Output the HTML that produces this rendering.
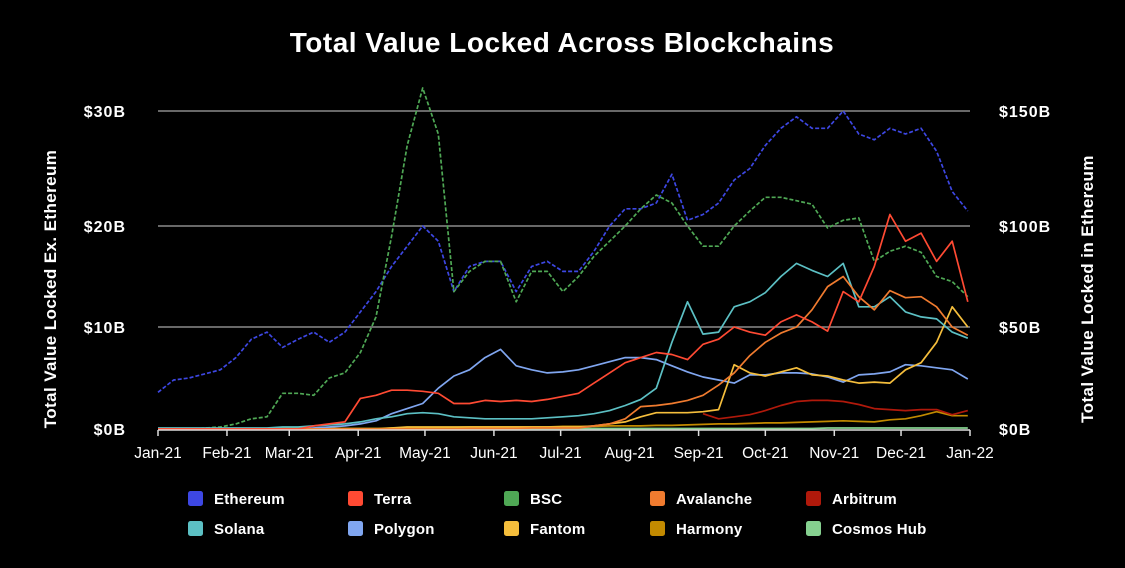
<!DOCTYPE html>
<html><head><meta charset="utf-8"><style>
body{margin:0;background:#000;width:1125px;height:563px;overflow:hidden;font-family:"Liberation Sans",sans-serif;color:#fff}
svg text{font-family:"Liberation Sans",sans-serif;fill:#fff}
</style></head><body>
<svg id="chart" width="1125" height="563">
<text x="562" y="52" text-anchor="middle" font-size="28" font-weight="bold" letter-spacing="0.5">Total Value Locked Across Blockchains</text>
<text transform="translate(56,289) rotate(-90)" text-anchor="middle" font-size="17" font-weight="bold" letter-spacing="0.4">Total Value Locked Ex. Ethereum</text>
<text transform="translate(1093,289) rotate(-90)" text-anchor="middle" font-size="17" font-weight="bold" letter-spacing="0.4">Total Value Locked in Ethereum</text>
<g id="grid"></g><g id="series"></g><g id="axes"></g><g id="legend"></g>
</svg>
<script>
const months = ["Jan-21","Feb-21","Mar-21","Apr-21","May-21","Jun-21","Jul-21","Aug-21","Sep-21","Oct-21","Nov-21","Dec-21","Jan-22"];
const monthDays = [0,31,59,90,120,151,181,212,243,273,304,334,365];
const leftTicks = [0,10,20,30];
const leftTickLabels = ["$0B","$10B","$20B","$30B"];
const rightTickLabels = ["$0B","$50B","$100B","$150B"];
const ethereum = [18,24,25,27,29,35,44,47.5,40,44,47.5,42.5,47.5,57.5,67.5,80,90,100,92.5,67.5,80,82.5,82.5,67.5,80,82.5,77.5,77.5,87.5,100,107.5,107.5,110,122.5,102.5,105,110,120,125,135,142.5,147.5,142.5,142.5,150,140,137.5,142.5,140,142.5,132.5,115,106.5];
const terra = [0,0,0,0,0,0,0,0,0,0,0.3,0.5,0.7,3,3.3,3.8,3.8,3.7,3.5,2.5,2.5,2.8,2.7,2.8,2.7,2.9,3.2,3.5,4.5,5.5,6.5,7,7.5,7.3,6.8,8.3,8.8,10,9.5,9.2,10.5,11.2,10.5,9.6,13.5,12.5,16,21,18.5,19.3,16.5,18.5,12.5];
const bsc = [0,0,0,0.1,0.2,0.5,1,1.2,3.5,3.5,3.3,5,5.5,7.5,11,19,27,32,28,13.5,15.5,16.5,16.5,12.5,15.5,15.5,13.5,15,17,18.5,20,21.5,22.7,22,20,18,18,20,21.3,22.5,22.5,22.2,21.9,19.8,20.5,20.7,16.5,17.5,18,17.4,15,14.5,13];
const avalanche = [0,0,0,0,0,0,0,0,0,0,0,0,0,0,0,0,0,0,0,0,0.05,0.05,0.05,0.05,0.1,0.1,0.1,0.1,0.3,0.5,1,2.2,2.3,2.5,2.8,3.3,4.3,5.5,7.2,8.5,9.4,10,11.7,14,15,13,11.7,13.6,12.9,13,12,10,9.2];
const arbitrum = [null,null,null,null,null,null,null,null,null,null,null,null,null,null,null,null,null,null,null,null,null,null,null,null,null,null,null,null,null,null,null,null,null,null,null,1.5,1,1.2,1.4,1.8,2.3,2.7,2.8,2.8,2.7,2.4,2,1.9,1.8,1.9,1.9,1.4,1.8];
const solana = [0.1,0.1,0.1,0.1,0.1,0.1,0.1,0.1,0.2,0.2,0.3,0.4,0.5,0.7,1,1.2,1.5,1.6,1.5,1.2,1.1,1,1,1,1,1.1,1.2,1.3,1.5,1.8,2.3,2.9,4,8.5,12.5,9.3,9.5,12,12.5,13.4,15,16.3,15.6,15,16.3,12,12,13,11.5,11,10.8,9.5,8.9];
const polygon = [0,0,0,0,0,0,0,0,0,0,0.1,0.2,0.3,0.5,0.8,1.5,2,2.5,4,5.2,5.8,7,7.8,6.2,5.8,5.5,5.6,5.8,6.2,6.6,7,7,6.8,6.2,5.6,5.1,4.8,4.5,5.3,5.3,5.5,5.5,5.4,5.1,4.6,5.3,5.4,5.6,6.3,6.2,6,5.8,4.9];
const fantom = [0,0,0,0,0,0,0,0,0,0,0,0,0,0,0,0.1,0.2,0.2,0.2,0.2,0.2,0.2,0.2,0.2,0.2,0.2,0.2,0.2,0.3,0.5,0.7,1.2,1.6,1.6,1.6,1.7,1.9,6.3,5.5,5.2,5.6,6,5.3,5.2,4.8,4.5,4.6,4.5,5.8,6.5,8.5,12,10];
const harmony = [0.05,0.05,0.05,0.05,0.05,0.05,0.05,0.05,0.05,0.05,0.05,0.05,0.05,0.05,0.05,0.1,0.1,0.15,0.15,0.15,0.2,0.2,0.2,0.2,0.2,0.2,0.25,0.25,0.25,0.3,0.3,0.3,0.35,0.35,0.4,0.45,0.5,0.5,0.55,0.6,0.6,0.65,0.7,0.75,0.8,0.75,0.7,0.9,1,1.3,1.7,1.3,1.3];
const cosmos = [0.05,0.05,0.05,0.05,0.05,0.05,0.05,0.05,0.05,0.05,0.05,0.05,0.05,0.05,0.05,0.05,0.05,0.05,0.05,0.05,0.05,0.05,0.05,0.05,0.05,0.05,0.05,0.05,0.05,0.05,0.05,0.05,0.05,0.05,0.05,0.05,0.05,0.05,0.05,0.05,0.05,0.05,0.05,0.1,0.1,0.1,0.1,0.1,0.1,0.1,0.1,0.1,0.1];
const ethScale = 5;

const NS="http://www.w3.org/2000/svg";
const x0=158,x1=970;
function xScale(day){return x0+(x1-x0)*day/365;}
const yDom=[0,10,20,30], yPix=[429,327,226,111];
function yScale(v){
  for(let i=0;i<yDom.length-1;i++){
    if(v<=yDom[i+1]||i===yDom.length-2){
      return yPix[i]+(v-yDom[i])/(yDom[i+1]-yDom[i])*(yPix[i+1]-yPix[i]);
    }
  }
}
function mk(tag,attrs,parent){const e=document.createElementNS(NS,tag);for(const k in attrs)e.setAttribute(k,attrs[k]);parent.appendChild(e);return e;}
const grid=document.getElementById('grid'),axes=document.getElementById('axes'),ser=document.getElementById('series'),leg=document.getElementById('legend');
leftTicks.forEach((t,i)=>{
  const y=yScale(t);
  if(t>0){const g=mk('line',{x1:x0,x2:x1,y1:y,y2:y,stroke:'#8a8a8a','stroke-width':1.5},grid);
  
  }
  const l=mk('text',{x:126,y:y+6,'text-anchor':'end','font-size':16,'font-weight':'bold','letter-spacing':1},axes);l.textContent=leftTickLabels[i];
  
  
  const r=mk('text',{x:999,y:y+6,'font-size':16,'font-weight':'bold','letter-spacing':1},axes);r.textContent=rightTickLabels[i];
  
  
});
const ax=mk('line',{x1:x0,x2:x1,y1:430,y2:430,stroke:'#ddd','stroke-width':1.5},axes);


months.forEach((m,i)=>{
  const x=xScale(monthDays[i]);
  const tk=mk('line',{x1:x,x2:x,y1:430,y2:436,stroke:'#ddd','stroke-width':1.5},axes);
  
  
  const t=mk('text',{x:x,y:458,'text-anchor':'middle','font-size':15.5},axes);t.textContent=m;
  
  
});
const series=[
 ["Ethereum",ethereum.map(v=>v/ethScale),"#3d47e3","4,2"],
 ["BSC",bsc,"#4fa855","4,2"],
 ["Cosmos Hub",cosmos,"#85d08f",null],
 ["Harmony",harmony,"#c28a00",null],
 ["Arbitrum",arbitrum,"#b0190b",null],
 ["Polygon",polygon,"#80a6f0",null],
 ["Fantom",fantom,"#f5be3c",null],
 ["Solana",solana,"#5cc0c4",null],
 ["Avalanche",avalanche,"#f07b2f",null],
 ["Terra",terra,"#ff4a33",null]
];
series.forEach(s=>{
  let d="";let pen=false;
  s[1].forEach((v,i)=>{if(v===null){pen=false;return;}
    d+=(pen?"L":"M")+xScale(i*7).toFixed(1)+","+yScale(v).toFixed(1);pen=true;});
  const p=mk('path',{d:d,fill:'none',stroke:s[2],'stroke-width':1.7,'stroke-linejoin':'round'},ser);
  if(s[3])p.setAttribute('stroke-dasharray',s[3]);
  
  
});
const legendItems=[["Ethereum","#3d47e3"],["Terra","#ff4a33"],["BSC","#4fa855"],["Avalanche","#f07b2f"],["Arbitrum","#b0190b"],["Solana","#5cc0c4"],["Polygon","#80a6f0"],["Fantom","#f5be3c"],["Harmony","#c28a00"],["Cosmos Hub","#85d08f"]];
const colX=[188,348,504,650,806];
legendItems.forEach((it,i)=>{
  const cx=colX[i%5],cy=i<5?491:521;
  const g=mk('g',{},leg);
  
  
  mk('rect',{x:cx,y:cy,width:15,height:15,rx:2.5,fill:it[1]},g);
  const t=mk('text',{x:cx+26,y:cy+13,'font-size':15,'font-weight':'bold','letter-spacing':0.2},g);t.textContent=it[0];
});
</script>
</body></html>
